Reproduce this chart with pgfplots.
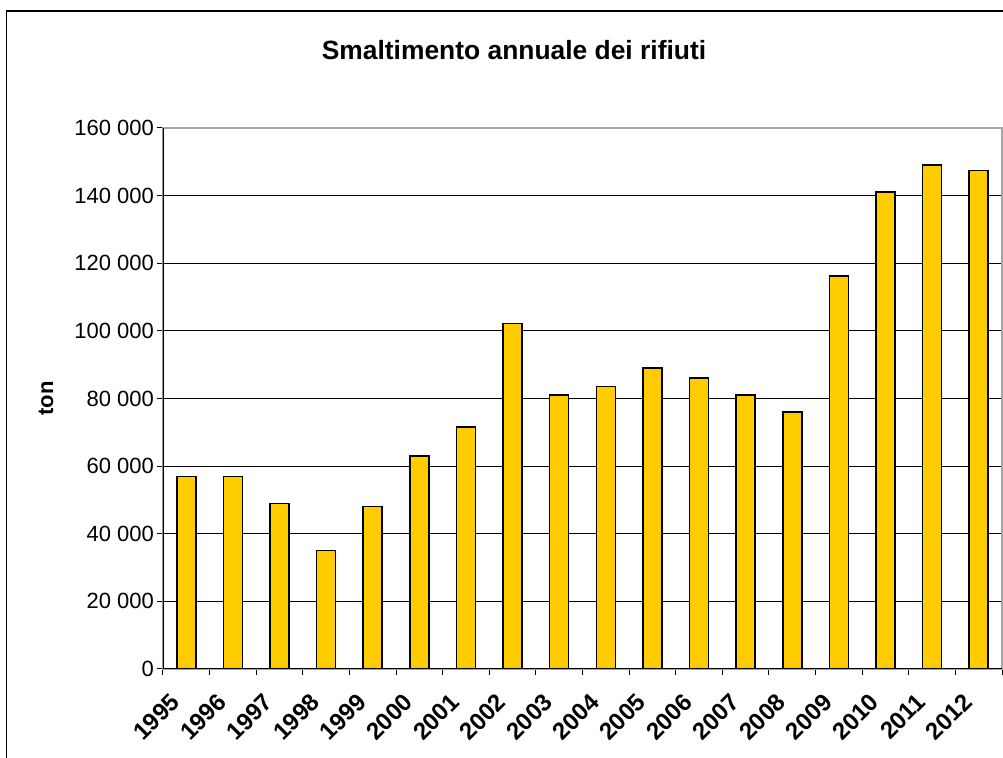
\documentclass[border=0pt]{standalone}
\usepackage{fontspec}
\setmainfont{Liberation Sans}
\usepackage{pgfplots}
\pgfplotsset{compat=1.18}
\definecolor{baryellow}{HTML}{FFCC00}

\begin{document}
\begin{tikzpicture}[x=0.5pt,y=0.5pt]
% page is 1003 x 758 px, 1 px = 0.5pt, y counted from bottom
\useasboundingbox (0,0) rectangle (1003,758);
\draw[black, line width=0.75pt] (6.5,-20) -- (6.5,747) -- (1030,747);
\node[font=\bfseries\fontsize{13.2}{15}\selectfont, anchor=base] at (514,698) {Smaltimento annuale dei rifiuti};

\begin{axis}[
    at={(81.5pt,44.5pt)}, anchor=south west,
    scale only axis,
    width=419.5pt, height=270.5pt,
    xmin=-0.5, xmax=17.5,
    ymin=0, ymax=160000,
    scaled y ticks=false,
    ybar, bar width=9.5pt,
    xtick={0,...,17},
    xticklabels={1995,1996,1997,1998,1999,2000,2001,2002,2003,2004,2005,2006,2007,2008,2009,2010,2011,2012},
    minor xtick={-0.5,0.5,...,17.5},
    every major x tick/.append style={draw=none},
    ytick={0,20000,...,160000},
    yticklabels={0,20 000,40 000,60 000,80 000,100 000,120 000,140 000,160 000},
    xtick pos=bottom, ytick pos=left,
    tick align=outside,
    major tick length=3pt, minor tick length=3pt,
    tick style={black, line width=0.5pt},
    xticklabel style={xshift=-3pt, yshift=-9pt, rotate=45, anchor=east, font=\bfseries\fontsize{12}{14}\selectfont},
    yticklabel style={xshift=2pt, font=\fontsize{11}{13}\selectfont},
    ylabel={ton},
    every axis y label/.style={at={(axis description cs:-0.1395,0.5)}, rotate=90, anchor=center, font=\bfseries\fontsize{11}{13}\selectfont},
    ymajorgrids,
    grid style={black, line width=0.5pt},
    axis line style={gray!70, line width=0.75pt},
]
\addplot[fill=baryellow, draw=black, line width=0.75pt] coordinates {
    (0,57000) (1,57000) (2,49000) (3,35000) (4,48000) (5,63000)
    (6,71500) (7,102200) (8,81000) (9,83600) (10,89000) (11,86000)
    (12,81000) (13,76000) (14,116200) (15,141000) (16,149000) (17,147500)
};
\draw[black, line width=0.75pt] (rel axis cs:0,1) -- (rel axis cs:0,0) -- (rel axis cs:1,0);
\end{axis}
\end{tikzpicture}
\end{document}
